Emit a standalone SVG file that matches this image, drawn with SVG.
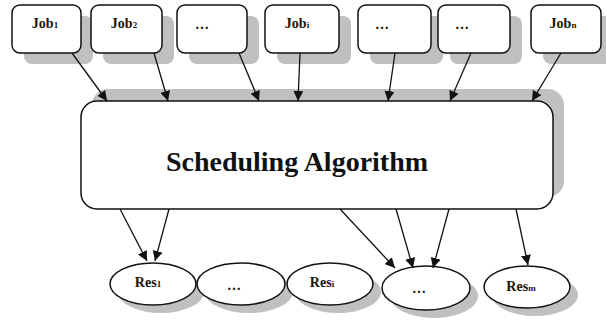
<svg xmlns="http://www.w3.org/2000/svg" width="606" height="320" viewBox="0 0 606 320">
  <style>
    .shadow { fill: #c0c0c0; stroke: none; }
    .box { fill: #ffffff; stroke: #111; stroke-width: 1.5; }
    .lbl { font-family: "Liberation Serif", "Times New Roman", serif; font-weight: bold; font-size: 14px; fill: #1a1408; text-anchor: middle; }
    .sub { font-size: 9px; }
    .title { font-family: "Liberation Serif", "Times New Roman", serif; font-weight: bold; font-size: 28px; fill: #111; text-anchor: middle; }
    .edge { stroke: #111; stroke-width: 1.3; fill: none; marker-end: url(#arrow); }
  </style>
  <defs>
    <marker id="arrow" viewBox="0 0 10 10" refX="10" refY="5" markerWidth="10" markerHeight="10" markerUnits="userSpaceOnUse" orient="auto">
      <path d="M0,0 L10,5 L0,10 z" fill="#111"/>
    </marker>
  </defs>

  <rect width="606" height="320" fill="#ffffff"/>

  <!-- scheduler -->
  <g id="scheduler">
    <rect class="shadow" x="92" y="89" width="472" height="108" rx="16"/>
    <rect class="box" x="81" y="101" width="472" height="108" rx="16"/>
    <text class="title" x="297" y="171">Scheduling Algorithm</text>
  </g>

  <!-- jobs -->
  <g id="job1">
    <rect class="shadow" x="24" y="16" width="69" height="48" rx="8"/>
    <rect class="box" x="12" y="5" width="69" height="48" rx="8"/>
    <text class="lbl" x="45" y="28">Job<tspan class="sub">1</tspan></text>
  </g>
  <g id="job2">
    <rect class="shadow" x="103" y="16" width="71" height="48" rx="8"/>
    <rect class="box" x="91" y="5" width="71" height="48" rx="8"/>
    <text class="lbl" x="124" y="28">Job<tspan class="sub">2</tspan></text>
  </g>
  <g id="job3">
    <rect class="shadow" x="189" y="16" width="70" height="48" rx="8"/>
    <rect class="box" x="177" y="5" width="70" height="48" rx="8"/>
    <text class="lbl" x="202" y="29">…</text>
  </g>
  <g id="jobi">
    <rect class="shadow" x="277" y="16" width="74" height="48" rx="8"/>
    <rect class="box" x="265" y="5" width="74" height="48" rx="8"/>
    <text class="lbl" x="297" y="28">Job<tspan class="sub">i</tspan></text>
  </g>
  <g id="job5">
    <rect class="shadow" x="370" y="16" width="73" height="48" rx="8"/>
    <rect class="box" x="358" y="5" width="73" height="48" rx="8"/>
    <text class="lbl" x="382" y="29">…</text>
  </g>
  <g id="job6">
    <rect class="shadow" x="450" y="16" width="72" height="48" rx="8"/>
    <rect class="box" x="438" y="5" width="72" height="48" rx="8"/>
    <text class="lbl" x="462" y="29">…</text>
  </g>
  <g id="jobn">
    <rect class="shadow" x="543" y="16" width="70" height="48" rx="8"/>
    <rect class="box" x="531" y="5" width="70" height="48" rx="8"/>
    <text class="lbl" x="563" y="28">Job<tspan class="sub">n</tspan></text>
  </g>

  <!-- resources -->
  <g id="res1">
    <ellipse class="shadow" cx="161" cy="292" rx="43" ry="21"/>
    <ellipse class="box" cx="153" cy="284" rx="43" ry="21"/>
    <text class="lbl" x="148" y="287">Res<tspan class="sub">1</tspan></text>
  </g>
  <g id="res2">
    <ellipse class="shadow" cx="249" cy="292" rx="44" ry="21"/>
    <ellipse class="box" cx="241" cy="284" rx="44" ry="21"/>
    <text class="lbl" x="234" y="290">…</text>
  </g>
  <g id="resi">
    <ellipse class="shadow" cx="338" cy="292" rx="43" ry="21"/>
    <ellipse class="box" cx="330" cy="284" rx="43" ry="21"/>
    <text class="lbl" x="322" y="287">Res<tspan class="sub">i</tspan></text>
  </g>
  <g id="res4">
    <ellipse class="shadow" cx="434" cy="296" rx="44" ry="22"/>
    <ellipse class="box" cx="426" cy="288" rx="44" ry="22"/>
    <text class="lbl" x="419" y="293">…</text>
  </g>
  <g id="resm">
    <ellipse class="shadow" cx="535" cy="295" rx="43" ry="21"/>
    <ellipse class="box" cx="527" cy="287" rx="43" ry="21"/>
    <text class="lbl" x="521" y="291">Res<tspan class="sub">m</tspan></text>
  </g>

  <!-- connectors -->
  <g id="connectors">
    <line class="edge" x1="72" y1="53" x2="107" y2="101"/>
    <line class="edge" x1="154" y1="53" x2="168" y2="101"/>
    <line class="edge" x1="239" y1="53" x2="259" y2="101"/>
    <line class="edge" x1="300" y1="53" x2="298" y2="101"/>
    <line class="edge" x1="395" y1="53" x2="388" y2="101"/>
    <line class="edge" x1="471" y1="53" x2="450" y2="101"/>
    <line class="edge" x1="561" y1="53" x2="532" y2="101"/>
    <line class="edge" x1="120" y1="209" x2="147" y2="261"/>
    <line class="edge" x1="169" y1="209" x2="155" y2="261"/>
    <line class="edge" x1="340" y1="209" x2="395" y2="268"/>
    <line class="edge" x1="396" y1="209" x2="413" y2="268"/>
    <line class="edge" x1="449" y1="209" x2="433" y2="268"/>
    <line class="edge" x1="516" y1="209" x2="528" y2="265"/>
  </g>
</svg>
